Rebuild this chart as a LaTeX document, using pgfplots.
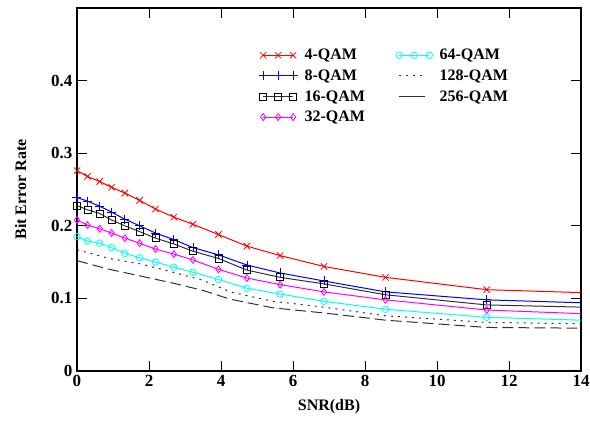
\documentclass[border=0pt]{standalone}
\usepackage{fontspec}
\setmainfont{Liberation Serif}
\usepackage{pgfplots}
\pgfplotsset{compat=1.18}
\definecolor{cR}{RGB}{255,0,0}
\definecolor{cB}{RGB}{0,0,255}
\definecolor{cM}{RGB}{255,0,255}
\definecolor{cC}{RGB}{0,255,255}
\definecolor{cK}{RGB}{50,50,50}
\begin{document}
\begin{tikzpicture}
\begin{axis}[
  scale only axis,
  width=504pt, height=363pt,
  xmin=0, xmax=14, ymin=0, ymax=0.5,
  xtick={0,2,...,14},
  ytick={0,0.1,0.2,0.3,0.4},
  yticklabels={0,0.1,0.2,0.3,0.4},
  tick align=inside,
  major tick length=10pt,
  tick style={black, line width=1pt},
  axis line style={black, line width=1.3pt},
  /pgf/number format/assume math mode=true,
  ticklabel style={font=\bfseries\fontsize{17}{17}\selectfont},
  xticklabel style={yshift=-1pt},
  yticklabel style={xshift=-1pt},
  xlabel={\bfseries SNR(dB)},
  ylabel={\bfseries Bit Error Rate},
  label style={font=\bfseries\fontsize{16}{16}\selectfont},
  xlabel style={yshift=-6pt},
  ylabel style={yshift=18pt},
  legend columns=4,
  transpose legend,
  legend style={draw=none, fill=none, at={(0.354,0.898)}, anchor=north west,
    font=\bfseries\fontsize{16}{16}\selectfont,
    /tikz/every odd column/.append style={column sep=5pt},
    /tikz/every even column/.append style={column sep=29pt},
    row sep=4.5pt},
  legend cell align=left,
  legend image code/.code={\draw[mark repeat=1,mark phase=1] plot coordinates {(0pt,0pt) (15pt,0pt) (30pt,0pt)};},
]
\addplot[cR, line width=1pt, mark=x, mark size=4.5pt, mark options={solid, line width=0.8pt}, mark indices={1,...,15}]
coordinates {(0,0.276) (0.29,0.268) (0.63,0.261) (0.96,0.253) (1.33,0.245) (1.74,0.235) (2.18,0.223) (2.69,0.212) (3.22,0.202) (3.93,0.188) (4.72,0.172) (5.64,0.159) (6.86,0.144) (8.57,0.129) (11.38,0.112) (14,0.108)};
\addlegendentry{4-QAM}
\addplot[cB, line width=1pt, mark=+, mark size=4.5pt, mark options={solid, line width=0.8pt}, mark indices={1,...,15}]
coordinates {(0,0.239) (0.29,0.234) (0.63,0.227) (0.96,0.219) (1.33,0.209) (1.74,0.200) (2.18,0.190) (2.69,0.181) (3.22,0.170) (3.93,0.160) (4.72,0.146) (5.64,0.135) (6.86,0.124) (8.57,0.109) (11.38,0.098) (14,0.094)};
\addlegendentry{8-QAM}
\addplot[cK, line width=1pt, mark=square, mark size=3.5pt, mark options={solid, black, line width=0.8pt}, mark indices={1,...,15}]
coordinates {(0,0.228) (0.29,0.222) (0.63,0.217) (0.96,0.208) (1.33,0.200) (1.74,0.192) (2.18,0.183) (2.69,0.175) (3.22,0.165) (3.93,0.155) (4.72,0.139) (5.64,0.129) (6.86,0.120) (8.57,0.105) (11.38,0.091) (14,0.088)};
\addlegendentry{16-QAM}
\addplot[cM, line width=1pt, mark=diamond, mark size=3.5pt, mark options={solid, line width=0.8pt}, mark indices={1,...,15},
  legend image code/.code={\draw[mark repeat=2,mark phase=2] plot coordinates {(0pt,0pt) (15pt,0pt) (30pt,0pt)};}]
coordinates {(0,0.208) (0.29,0.201) (0.63,0.196) (0.96,0.190) (1.33,0.183) (1.74,0.176) (2.18,0.168) (2.69,0.161) (3.22,0.153) (3.93,0.140) (4.72,0.128) (5.64,0.119) (6.86,0.109) (8.57,0.098) (11.38,0.084) (14,0.079)};
\addlegendentry{32-QAM}
\addplot[cC, line width=1pt, mark=o, mark size=3.3pt, mark options={solid, line width=0.8pt}, mark indices={1,...,15}]
coordinates {(0,0.185) (0.29,0.179) (0.63,0.176) (0.96,0.170) (1.33,0.162) (1.74,0.156) (2.18,0.150) (2.69,0.143) (3.22,0.136) (3.93,0.126) (4.72,0.114) (5.64,0.106) (6.86,0.096) (8.57,0.085) (11.38,0.074) (14,0.070)};
\addlegendentry{64-QAM}
\addplot[cK, line width=1pt, dash pattern=on 2pt off 5pt,
  legend image code/.code={\draw plot coordinates {(0pt,0pt) (26pt,0pt)};}]
coordinates {(0,0.167) (0.9,0.155) (1.72,0.148) (2.67,0.136) (3.5,0.125) (4.25,0.109) (5.44,0.096) (6.85,0.088) (8.57,0.076) (11.38,0.067) (14,0.065)};
\addlegendentry{128-QAM}
\addplot[cK, line width=1pt, dash pattern=on 11pt off 5pt,
  legend image code/.code={\draw[solid] plot coordinates {(0pt,0pt) (26pt,0pt)};}]
coordinates {(0,0.152) (0.9,0.140) (1.75,0.131) (2.67,0.121) (3.5,0.111) (4.25,0.099) (5.44,0.087) (6.85,0.080) (8.57,0.070) (11.38,0.060) (14,0.059)};
\addlegendentry{256-QAM}
\end{axis}
\pgfresetboundingbox
\useasboundingbox ([xshift=-77pt,yshift=-50pt]current axis.south west) rectangle ([xshift=9pt,yshift=8pt]current axis.north east);
\end{tikzpicture}
\end{document}
